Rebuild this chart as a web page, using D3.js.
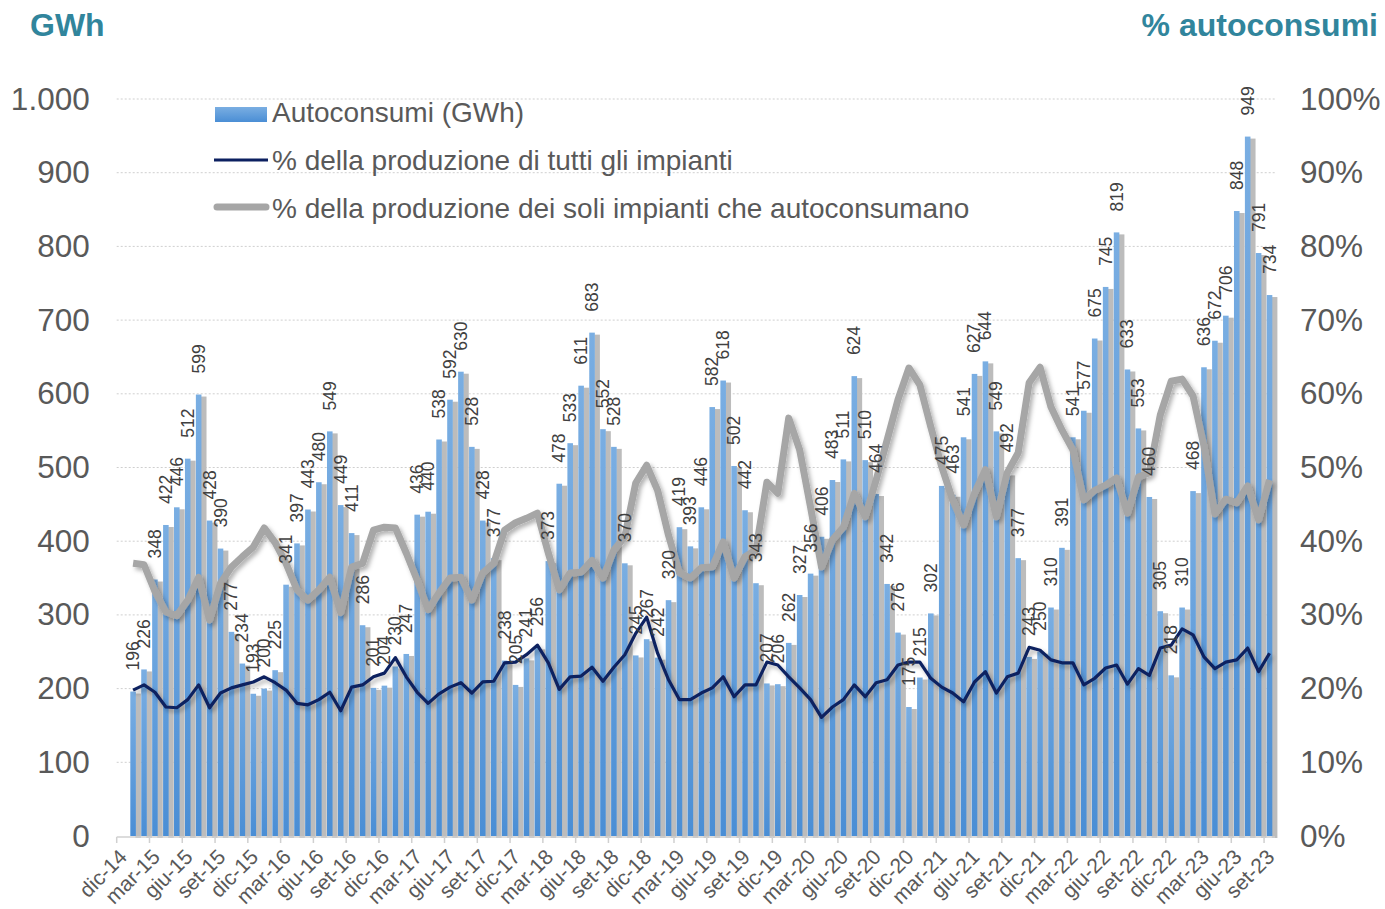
<!DOCTYPE html>
<html>
<head>
<meta charset="utf-8">
<script src="https://cdn.jsdelivr.net/npm/d3@7"></script>
<style>
  body { margin: 0; background: #fff; }
  svg { display: block; font-family: Arial, "Liberation Sans", sans-serif; }
</style>
</head>
<body>
<svg id="chart" width="1385" height="909"></svg>
<script>
// month names used for the category axis (dic-14 ... set-23)
var monthNames = ["gen", "feb", "mar", "apr", "mag", "giu", "lug", "ago", "set", "ott", "nov", "dic"];
var firstMonth = 11, firstYear = 14, nMonths = 106;

// Autoconsumi (GWh); dic-14 has no value
var autoconsumi = [null,
  196, 226, 348, 422, 446, 512, 599, 428, 390, 277, 234, 193,
  200, 225, 341, 397, 443, 480, 549, 449, 411, 286, 201, 204,
  230, 247, 436, 440, 538, 592, 630, 528, 428, 377, 238, 205,
  241, 256, 373, 478, 533, 611, 683, 552, 528, 370, 245, 267,
  242, 320, 419, 393, 446, 582, 618, 502, 442, 343, 207, 206,
  262, 327, 356, 406, 483, 511, 624, 510, 464, 342, 276, 175,
  215, 302, 475, 463, 541, 627, 644, 549, 492, 377, 243, 250,
  310, 391, 541, 577, 675, 745, 819, 633, 553, 460, 305, 218,
  310, 468, 636, 672, 706, 848, 949, 791, 734];

// % della produzione di tutti gli impianti
var pctTutti = [null,
  19.8, 20.5, 19.5, 17.5, 17.4, 18.5, 20.5, 17.4, 19.4, 20.1, 20.5, 20.9,
  21.6, 20.8, 19.8, 18.0, 17.8, 18.5, 19.5, 17.0, 20.2, 20.5, 21.6, 22.1,
  24.2, 21.6, 19.5, 18.0, 19.3, 20.2, 20.8, 19.4, 20.9, 21.0, 23.5, 23.6,
  24.6, 25.9, 23.5, 19.9, 21.6, 21.7, 22.9, 21.0, 22.9, 24.6, 27.5, 29.7,
  24.8, 21.2, 18.5, 18.5, 19.4, 20.1, 21.6, 18.9, 20.5, 20.5, 23.6, 23.2,
  21.6, 20.1, 18.5, 16.1, 17.5, 18.5, 20.5, 18.9, 20.8, 21.2, 23.2, 23.6,
  23.6, 21.4, 20.2, 19.4, 18.2, 20.9, 22.3, 19.4, 21.6, 22.1, 25.6, 25.2,
  23.9, 23.5, 23.5, 20.5, 21.4, 22.8, 23.2, 20.6, 22.7, 21.8, 25.5, 25.9,
  28.1, 27.3, 24.3, 22.7, 23.6, 23.9, 25.5, 22.3, 24.8];

// % della produzione dei soli impianti che autoconsumano
var pctSoli = [null,
  37.0, 36.8, 33.2, 30.4, 29.9, 32.0, 35.1, 29.3, 34.3, 36.5, 37.9, 39.2,
  41.8, 39.8, 37.0, 33.4, 32.0, 33.4, 35.1, 30.3, 36.5, 37.0, 41.5, 41.9,
  41.8, 38.4, 34.7, 30.7, 33.0, 35.0, 35.1, 32.0, 35.7, 37.0, 41.5, 42.5,
  43.1, 43.8, 38.4, 33.4, 35.7, 35.8, 37.4, 35.0, 38.8, 40.6, 47.9, 50.3,
  46.9, 40.8, 35.7, 35.0, 36.4, 36.5, 39.9, 35.0, 37.9, 38.8, 48.0, 46.5,
  56.7, 52.4, 44.6, 36.5, 40.2, 41.9, 46.5, 43.3, 48.3, 53.7, 59.2, 63.5,
  61.2, 55.5, 50.1, 45.6, 42.2, 46.5, 49.7, 43.3, 49.3, 52.0, 61.5, 63.6,
  58.2, 55.1, 52.4, 45.6, 46.9, 47.6, 48.6, 43.8, 48.7, 49.3, 57.1, 61.7,
  62.0, 59.7, 52.9, 43.7, 45.7, 45.2, 47.5, 42.9, 48.3];

var leftTicks = [0, 100, 200, 300, 400, 500, 600, 700, 800, 900, 1000];
var rightTicks = [0, 0.1, 0.2, 0.3, 0.4, 0.5, 0.6, 0.7, 0.8, 0.9, 1];
var legendLabels = ["Autoconsumi (GWh)", "% della produzione di tutti gli impianti",
  "% della produzione dei soli impianti che autoconsumano"];

var categories = d3.range(nMonths).map(function(i) {
  var m = (firstMonth + i) % 12;
  var yr = firstYear + Math.floor((firstMonth + i) / 12);
  return monthNames[m] + "-" + yr;
});

var svg = d3.select("#chart");
var pLeft = 116.7, pRight = 1275, pTop = 99, pBottom = 836;
var grey = "#595959", teal = "#31859c";

var x = d3.scaleBand().domain(categories).range([pLeft, pRight])
  .paddingInner(0.49).paddingOuter(0.245);
var step = x.step(), bw = x.bandwidth();
var cx = function(c) { return x(c) + bw / 2; };
var yL = d3.scaleLinear().domain([0, 1000]).range([pBottom, pTop]);
var yR = d3.scaleLinear().domain([0, 1]).range([pBottom, pTop]);
var it = d3.formatLocale({decimal: ",", thousands: ".", grouping: [3], currency: ["€", ""]});

var defs = svg.append("defs");
var grad = defs.append("linearGradient").attr("id", "barGrad")
  .attr("x1", 0).attr("y1", 0).attr("x2", 0).attr("y2", 1);
grad.append("stop").attr("offset", "0%").attr("stop-color", "#7aaee2");
grad.append("stop").attr("offset", "100%").attr("stop-color", "#4a8ed5");
defs.append("filter").attr("id", "soft").append("feGaussianBlur").attr("stdDeviation", 0.7);
var sh = defs.append("filter").attr("id", "lineShadow")
  .attr("x", "-5%").attr("y", "-20%").attr("width", "110%").attr("height", "140%");
sh.append("feDropShadow").attr("dx", 2.5).attr("dy", 3).attr("stdDeviation", 2.2)
  .attr("flood-color", "#000").attr("flood-opacity", 0.3);

// gridlines
svg.append("g").selectAll("line")
  .data(leftTicks.filter(function(d) { return d > 0; }))
  .enter().append("line")
  .attr("x1", pLeft).attr("x2", pRight)
  .attr("y1", function(d) { return yL(d); }).attr("y2", function(d) { return yL(d); })
  .attr("stroke", "#cfcfcf").attr("stroke-dasharray", "2,2");

// left / right axes
var axL = svg.append("g").attr("transform", "translate(" + pLeft + ",0)")
  .call(d3.axisLeft(yL).tickValues(leftTicks).tickSize(0).tickPadding(27).tickFormat(it.format(",")));
var axR = svg.append("g").attr("transform", "translate(" + pRight + ",0)")
  .call(d3.axisRight(yR).tickValues(rightTicks).tickSize(0).tickPadding(25).tickFormat(d3.format(".0%")));
[axL, axR].forEach(function(a) {
  a.select(".domain").remove();
  a.selectAll("text").attr("font-size", 31.5).attr("fill", grey).attr("font-family", "Arial, 'Liberation Sans', sans-serif");
});

var barData = categories.map(function(c, i) { return {c: c, v: autoconsumi[i]}; })
  .filter(function(d) { return d.v != null; });

// bar shadows
svg.append("g").attr("filter", "url(#soft)").selectAll("rect").data(barData).enter().append("rect")
  .attr("x", function(d) { return x(d.c) + bw - 0.5; })
  .attr("y", function(d) { return yL(d.v) + 2; })
  .attr("width", bw).attr("height", function(d) { return pBottom - yL(d.v); })
  .attr("fill", "#bcbcbc");

// bars
svg.append("g").selectAll("rect").data(barData).enter().append("rect")
  .attr("x", function(d) { return x(d.c); })
  .attr("y", function(d) { return yL(d.v); })
  .attr("width", bw).attr("height", function(d) { return pBottom - yL(d.v); })
  .attr("fill", "url(#barGrad)");

// x axis
svg.append("line").attr("x1", pLeft).attr("x2", pRight).attr("y1", pBottom + 1).attr("y2", pBottom + 1)
  .attr("stroke", "#d0d0d0").attr("stroke-width", 1.5);
svg.append("g").selectAll("line")
  .data(categories.filter(function(c, i) { return i % 3 === 0; }))
  .enter().append("line")
  .attr("x1", function(c) { return x(c) - (step - bw) / 2; })
  .attr("x2", function(c) { return x(c) - (step - bw) / 2; })
  .attr("y1", pBottom + 1).attr("y2", pBottom + 7)
  .attr("stroke", "#d0d0d0").attr("stroke-width", 1.5);
svg.append("g").selectAll("text")
  .data(categories.filter(function(c, i) { return i % 3 === 0; }))
  .enter().append("text")
  .attr("transform", function(c) { return "translate(" + (cx(c) + 1) + "," + (pBottom + 17) + ") rotate(-45)"; })
  .attr("text-anchor", "end").attr("dy", "0.35em")
  .attr("font-size", 21).attr("fill", grey)
  .text(function(c) { return c; });

// lines
var line = function(arr) {
  return d3.line()
    .defined(function(c, i) { return arr[i] != null; })
    .x(function(c) { return cx(c); })
    .y(function(c, i) { return yR(arr[i] / 100); })(categories);
};
svg.append("path").attr("d", line(pctSoli)).attr("fill", "none")
  .attr("stroke", "#a6a6a6").attr("stroke-width", 7).attr("stroke-linejoin", "round")
  .attr("filter", "url(#lineShadow)");
svg.append("path").attr("d", line(pctTutti)).attr("fill", "none")
  .attr("stroke", "#0c2060").attr("stroke-width", 3.2).attr("stroke-linejoin", "round")
  .attr("filter", "url(#lineShadow)");

// data labels (on top of the lines)
svg.append("g").selectAll("text").data(barData).enter().append("text")
  .attr("transform", function(d) { return "translate(" + (cx(d.c) + 6) + "," + (yL(d.v) - 21) + ") rotate(-90)"; })
  .attr("font-size", 17.5).attr("fill", "#404040")
  .text(function(d) { return d.v; });

// titles
svg.append("text").attr("x", 30).attr("y", 36).attr("font-size", 32).attr("font-weight", "bold")
  .attr("fill", teal).text("GWh");
svg.append("text").attr("x", 1378).attr("y", 36).attr("text-anchor", "end").attr("font-size", 32)
  .attr("font-weight", "bold").attr("fill", teal).text("% autoconsumi");

// legend
var lg = svg.append("g");
lg.append("rect").attr("x", 215).attr("y", 107).attr("width", 52).attr("height", 15).attr("fill", "url(#barGrad)");
lg.append("line").attr("x1", 214).attr("x2", 268).attr("y1", 160).attr("y2", 160)
  .attr("stroke", "#0c2060").attr("stroke-width", 3.2);
lg.append("line").attr("x1", 217).attr("x2", 266).attr("y1", 207).attr("y2", 207)
  .attr("stroke", "#a6a6a6").attr("stroke-width", 7).attr("stroke-linecap", "round");
lg.selectAll("text").data(legendLabels).enter().append("text")
  .attr("x", 272).attr("y", function(d, i) { return 122 + i * 48; })
  .attr("font-size", 28).attr("fill", grey)
  .text(function(d) { return d; });
</script>
</body>
</html>
